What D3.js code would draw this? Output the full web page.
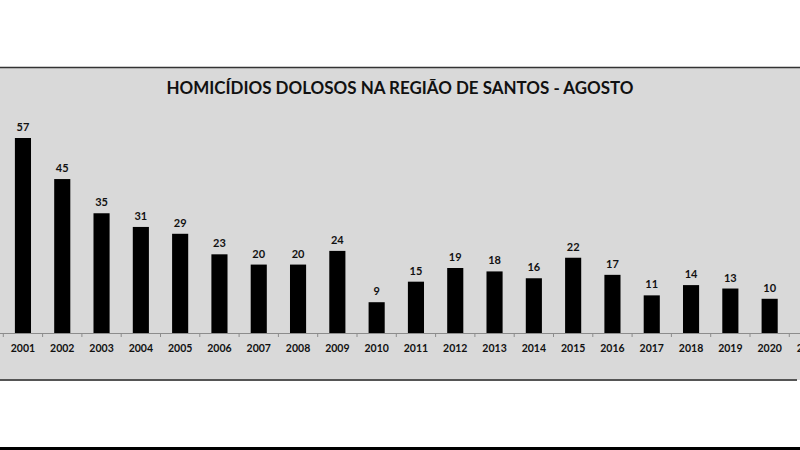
<!DOCTYPE html>
<html>
<head>
<meta charset="utf-8">
<script src="https://cdn.jsdelivr.net/npm/d3@7"></script>
<style>
  body { margin: 0; background: #fff; }
  svg { display: block; }
  text { font-family: Lato, "Open Sans", sans-serif; font-weight: bold; fill: #111; }
</style>
</head>
<body>
<div id="chart"></div>
<script>
const title = 'HOMICÍDIOS DOLOSOS NA REGIÃO DE SANTOS - AGOSTO';
const years = ['2001','2002','2003','2004','2005','2006','2007','2008','2009','2010',
               '2011','2012','2013','2014','2015','2016','2017','2018','2019','2020','2021'];
// 2021 bar is cut off at the right edge of the picture
const homicides = [57, 45, 35, 31, 29, 23, 20, 20, 24, 9,
                   15, 19, 18, 16, 22, 17, 11, 14, 13, 10, null];

const width = 800, height = 450;
const baseY = 333;

const svg = d3.select('#chart').append('svg')
    .attr('width', width)
    .attr('height', height);

// gray panel with dark top/bottom borders
svg.append('rect')
    .attr('x', 0).attr('y', 67)
    .attr('width', width).attr('height', 313)
    .attr('fill', '#d9d9d9');
svg.append('line')
    .attr('x1', 0).attr('x2', width).attr('y1', 67.5).attr('y2', 67.5)
    .attr('stroke', '#333').attr('stroke-width', 1.5);
svg.append('line')
    .attr('x1', 0).attr('x2', 797).attr('y1', 380).attr('y2', 380)
    .attr('stroke', '#555').attr('stroke-width', 2);
svg.append('rect')
    .attr('x', 0).attr('y', 447)
    .attr('width', width).attr('height', 3)
    .attr('fill', '#000');

svg.append('text')
    .attr('x', 400).attr('y', 94)
    .attr('text-anchor', 'middle')
    .attr('font-size', 16.5)
    .attr('textLength', 467)
    .attr('lengthAdjust', 'spacingAndGlyphs')
    .text(title);

const x = d3.scaleBand()
    .domain(years)
    .range([3.3, 3.3 + 39.3 * years.length])
    .paddingInner(0.59)
    .paddingOuter(0.295);

const y = d3.scaleLinear()
    .domain([0, 57])
    .range([baseY, 138]);

const data = years.map((yr, i) => ({ year: yr, value: homicides[i] }));
const shown = data.filter(d => d.value != null);

svg.append('g')
    .selectAll('rect')
    .data(shown)
    .enter().append('rect')
    .attr('x', d => x(d.year))
    .attr('y', d => y(d.value))
    .attr('width', x.bandwidth())
    .attr('height', d => baseY - y(d.value))
    .attr('fill', '#000');

svg.append('g')
    .selectAll('text')
    .data(shown)
    .enter().append('text')
    .attr('x', d => x(d.year) + x.bandwidth() / 2)
    .attr('y', d => y(d.value) - 7)
    .attr('text-anchor', 'middle')
    .attr('font-size', 11)
    .text(d => d.value);

// category axis: line, boundary ticks, year labels
const axis = svg.append('g');
axis.append('line')
    .attr('x1', 0).attr('x2', width)
    .attr('y1', baseY + 0.5).attr('y2', baseY + 0.5)
    .attr('stroke', '#8c8c8c');
axis.selectAll('line.tick')
    .data(d3.range(years.length + 1))
    .enter().append('line')
    .attr('class', 'tick')
    .attr('x1', i => x.range()[0] + i * x.step())
    .attr('x2', i => x.range()[0] + i * x.step())
    .attr('y1', baseY).attr('y2', baseY + 4)
    .attr('stroke', '#8c8c8c');
axis.selectAll('text')
    .data(years)
    .enter().append('text')
    .attr('x', d => x(d) + x.bandwidth() / 2)
    .attr('y', 352)
    .attr('text-anchor', 'middle')
    .attr('font-size', 10.5)
    .text(d => d);
</script>
</body>
</html>
